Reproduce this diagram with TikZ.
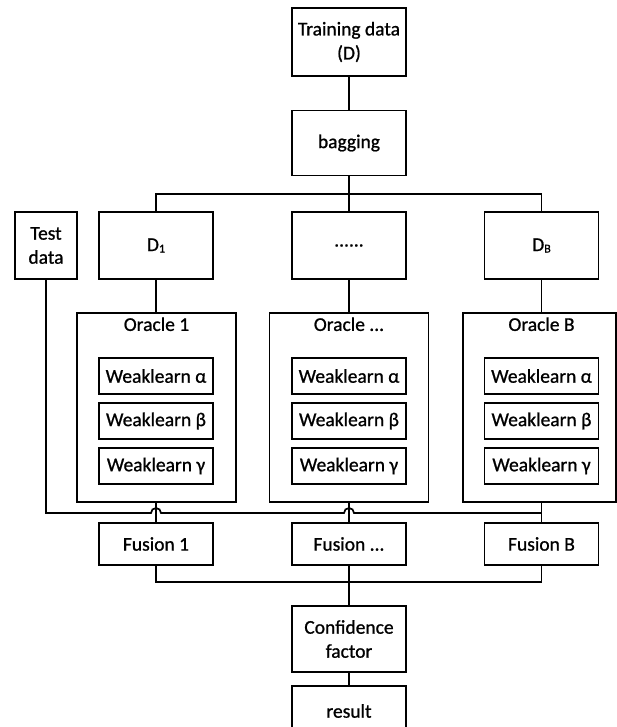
\documentclass[tikz,border=0pt]{standalone}
\usepackage{fontspec}
\setmainfont{Carlito}[FakeBold=0.9]
\usetikzlibrary{calc}
\begin{document}
\begin{tikzpicture}[x=1pt,y=-1pt,
  box/.style={draw, line width=1.7pt, minimum width=114pt, inner sep=0pt, align=center, font=\fontsize{19.5}{24}\selectfont},
  oracle/.style={draw, line width=1.7pt, minimum width=159pt, minimum height=189pt, inner sep=0pt},
  wl/.style={box, minimum height=36pt},
  olabel/.style={anchor=north, inner sep=0pt, font=\fontsize{19.5}{24}\selectfont},
  ln/.style={line width=1.7pt}]
\clip (0,0) rectangle (617,727);
\fill[white] (0,0) rectangle (617,727);
% top
\node[box, minimum height=68pt] (train) at (349,42) {Training data\\(D)};
\node[box, minimum height=65pt] (bag) at (349,143) {bagging};
\coordinate (busc) at (349,194);
% datasets
\node[box, minimum width=62pt, minimum height=67pt] (test) at (46,245.5) {Test\\data};
\node[box, minimum height=67pt] (d1) at (156,245.5) {D\raisebox{-1.5pt}{\fontsize{12}{12}\selectfont 1}};
\node[box, minimum height=67pt] (d2) at (349,245.5) {......};
\node[box, minimum height=67pt] (db) at (541.5,245.5) {D\raisebox{-1.5pt}{\fontsize{12}{12}\selectfont B}};
% oracles
\node[oracle] (o1) at (156.5,407.5) {};
\node[oracle] (o2) at (349,407.5) {};
\node[oracle, minimum width=153pt] (ob) at (539.5,407.5) {};
\node[olabel] (o1l) at ($(o1.north)+(0,5)$) {Oracle 1};
\node[olabel] (o2l) at ($(o2.north)+(0,5)$) {Oracle ...};
\node[olabel] (obl) at ($(ob.north-|db)+(0,5)$) {Oracle B};
% weaklearns
\node[wl] (w1a) at (156,376) {Weaklearn α};
\node[wl] (w1b) at (156,421) {Weaklearn β};
\node[wl] (w1c) at (156,466) {Weaklearn γ};
\node[wl] (w2a) at (349,376) {Weaklearn α};
\node[wl] (w2b) at (349,421) {Weaklearn β};
\node[wl] (w2c) at (349,466) {Weaklearn γ};
\node[wl] (wba) at (541.5,376) {Weaklearn α};
\node[wl] (wbb) at (541.5,421) {Weaklearn β};
\node[wl] (wbc) at (541.5,466) {Weaklearn γ};
% fusion
\node[box, minimum height=42pt] (f1) at (156,544) {Fusion 1};
\node[box, minimum height=42pt] (f2) at (349,544) {Fusion ...};
\node[box, minimum height=42pt] (fb) at (541.5,544) {Fusion B};
\coordinate (bus2) at (349,582);
\coordinate (tj) at (46,513);
% bottom
\node[box, minimum height=66pt] (conf) at (349,639) {Confidence\\factor};
\node[box, minimum height=50pt] (res) at (349,711) {result};
% connectors
\draw[ln] (train) -- (bag);
\draw[ln] (bag) -- (busc);
\draw[ln] (d1) -- (d1|-busc) -- (db|-busc) -- (db);
\draw[ln] (busc) -- (d2);
\draw[ln] (d1) -- (d1|-o1.north);
\draw[ln] (d2) -- (o2);
\draw[ln] (db) -- (db|-ob.north);
\draw[ln] (f1|-o1.south) -- (f1);
\draw[ln] (f2|-o2.south) -- (f2);
\draw[ln] (fb|-ob.south) -- (fb);
\draw[ln] (test) -- (test|-tj) -- ($(f1|-tj)+(-5,0)$) arc[start angle=180,end angle=360,radius=5]
  -- ($(f2|-tj)+(-5,0)$) arc[start angle=180,end angle=360,radius=5] -- (fb|-tj);
\draw[ln] (f1) -- (f1|-bus2) -- (fb|-bus2) -- (fb);
\draw[ln] (f2) -- (conf);
\draw[ln] (conf) -- (res);
\end{tikzpicture}
\end{document}
